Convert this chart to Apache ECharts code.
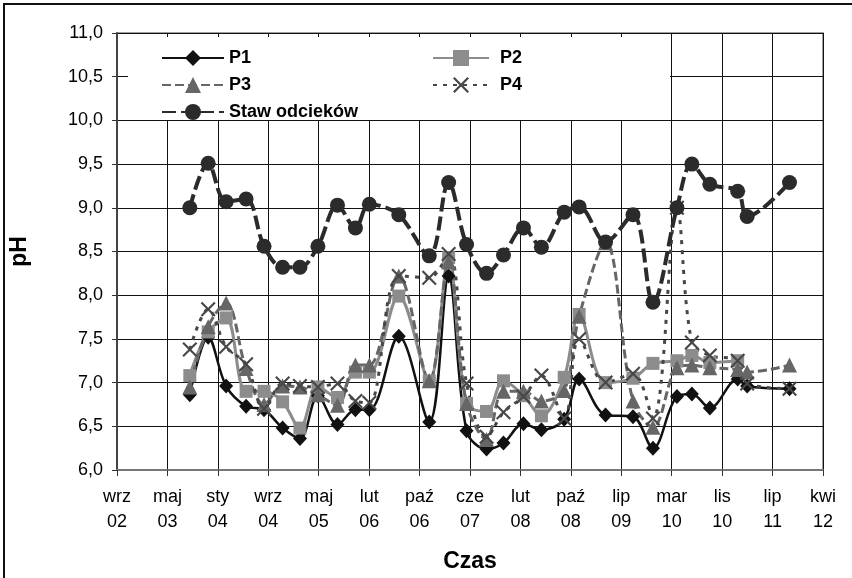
<!DOCTYPE html>
<html><head><meta charset="utf-8">
<script src="https://cdn.jsdelivr.net/npm/echarts@6/dist/echarts.min.js"></script>
<style>html,body{margin:0;padding:0;background:#fff}#c{width:852px;height:578px}</style>
</head><body><div id="c"></div><script>
// Sampling dates
const dates = ['2003-08-28','2003-11-27','2004-02-24','2004-06-02','2004-08-30','2004-11-30','2005-02-24','2005-05-24','2005-08-29','2005-11-26','2006-02-03','2006-06-29','2006-11-27','2007-03-03','2007-05-31','2007-09-07','2007-11-30','2008-03-08','2008-06-05','2008-09-26','2008-12-09','2009-04-19','2009-09-02','2009-12-10','2010-04-08','2010-06-21','2010-09-18','2011-02-03','2011-03-22','2011-10-18'];
// pH values per series
const p1 = [6.86,7.52,6.96,6.73,6.69,6.48,6.36,6.85,6.52,6.69,6.69,7.53,6.55,8.22,6.45,6.24,6.31,6.53,6.46,6.58,7.04,6.63,6.61,6.25,6.84,6.87,6.71,7.04,6.96,6.93];
const p2 = [7.08,7.58,7.74,6.90,6.90,6.78,6.48,6.95,6.83,7.12,7.12,7.99,7.02,8.43,6.76,6.67,7.02,6.85,6.62,7.06,7.78,7.00,7.05,7.22,7.25,7.31,7.23,7.25,null,null];
const p3 = [6.95,7.64,7.91,7.16,6.75,6.96,6.95,6.86,6.74,7.20,7.20,8.22,7.02,8.38,6.76,6.35,6.90,6.90,6.79,6.91,7.76,8.60,6.79,6.49,7.17,7.20,7.17,7.15,7.12,7.20];
const p4 = [7.38,7.84,7.41,7.21,6.70,6.99,6.96,6.95,6.99,6.79,6.77,8.22,8.20,8.47,6.99,6.38,6.66,6.84,7.08,6.59,7.50,7.00,7.10,6.59,9.00,7.46,7.31,7.25,6.99,6.93];
const staw = [9.00,9.51,9.07,9.10,8.56,8.32,8.32,8.56,9.03,8.77,9.04,8.92,8.45,9.29,8.58,8.25,8.46,8.77,8.55,8.95,9.01,8.61,8.92,7.92,9.00,9.50,9.27,9.19,8.90,9.29];
const seriesNames = ['P1','P2','P3','P4','Staw odcieków'];
// Axis settings (Excel date serials)
const xMin = 37500, xMax = 41000, xStep = 250;
const yMin = 6, yMax = 11, yStep = 0.5;
const monthNames = ['sty','lut','mar','kwi','maj','cze','lip','sie','wrz','paź','lis','gru'];

const EPOCH = Date.UTC(1899,11,30);
function serial(s){const [y,m,d]=s.split('-').map(Number);return Math.round((Date.UTC(y,m-1,d)-EPOCH)/86400000);}
function dateLabel(v){const d=new Date(EPOCH+v*86400000);return monthNames[d.getUTCMonth()]+'\n'+String(d.getUTCFullYear()%100).padStart(2,'0');}
const xs = dates.map(serial);
const pair = arr => arr.map((v,i)=>[xs[i],v]).filter(p=>p[1]!=null);
const FONT = "'Liberation Sans', Arial, sans-serif";
const XPATH = 'path://M1,0L5,4L9,0L10,1L6,5L10,9L9,10L5,6L1,10L0,9L4,5L0,1Z';

function mk(name, data, color, lw, ltype, symbol, ssize){
  return {name, type:'line', data:pair(data), smooth:0.35, symbol, symbolSize:ssize,
    lineStyle:{color, width:lw, type:ltype}, itemStyle:{color}, emphasis:{disabled:true}};
}

const legendText = {fontFamily:FONT, fontSize:18, fontWeight:'bold', color:'#000', lineHeight:20};
const chart = echarts.init(document.getElementById('c'), null, {renderer:'canvas'});
chart.setOption({
  animation:false,
  backgroundColor:'#fff',
  textStyle:{fontFamily:FONT},
  grid:{left:115, right:29, top:33, bottom:102, show:true, borderColor:'#808080', borderWidth:1.5, containLabel:false},
  graphic:[
    {type:'rect', z:1, shape:{x:128, y:37, width:542, height:83}, style:{fill:'#fff'}},
    {type:'rect', z:10, shape:{x:4, y:4, width:900, height:700}, style:{fill:'none', stroke:'#111', lineWidth:2}}
  ],
  legend:[
    {data:['P1','P3','Staw odcieków'], orient:'vertical', left:156, top:43, itemWidth:62, itemHeight:20, itemGap:7,
     textStyle:legendText, selectedMode:false},
    {data:['P2','P4'], orient:'vertical', left:427, top:43, itemWidth:56, itemHeight:20, itemGap:7,
     textStyle:Object.assign({}, legendText, {padding:[0,0,0,6]}), selectedMode:false}
  ],
  xAxis:{type:'value', min:xMin, max:xMax, interval:xStep,
    name:'Czas', nameLocation:'middle', nameGap:80,
    nameTextStyle:{fontFamily:FONT, fontSize:23, fontWeight:'bold', color:'#000'},
    axisLine:{show:true, lineStyle:{color:'#777', width:2}},
    axisTick:{show:true, inside:false, length:6, lineStyle:{color:'#333', width:1}},
    axisLabel:{formatter:dateLabel, fontFamily:FONT, fontSize:18, color:'#000', lineHeight:25, margin:15, showMinLabel:true, showMaxLabel:true},
    splitLine:{show:true, lineStyle:{color:'#111', width:1}}},
  yAxis:{type:'value', min:yMin, max:yMax, interval:yStep,
    name:'pH', nameLocation:'middle', nameGap:86, nameRotate:90,
    nameTextStyle:{fontFamily:FONT, fontSize:23, fontWeight:'bold', color:'#000'},
    axisLine:{show:true, lineStyle:{color:'#444', width:2}},
    axisTick:{show:true, inside:false, length:5, lineStyle:{color:'#333', width:1}},
    axisLabel:{formatter:v=>v.toFixed(1).replace('.',','), fontFamily:FONT, fontSize:18, color:'#000', margin:14},
    splitLine:{show:true, lineStyle:{color:'#111', width:1}}},
  series:[
    mk(seriesNames[0], p1, '#111111', 2.5, 'solid', 'diamond', [14,15]),
    mk(seriesNames[1], p2, '#8c8c8c', 3, 'solid', 'rect', 13),
    mk(seriesNames[2], p3, '#666666', 3, [9,4], 'triangle', 15),
    mk(seriesNames[3], p4, '#474747', 3, [4,6], XPATH, 15),
    mk(seriesNames[4], staw, '#2b2b2b', 4, [14,5], 'circle', 15)
  ]
});
</script></body></html>
